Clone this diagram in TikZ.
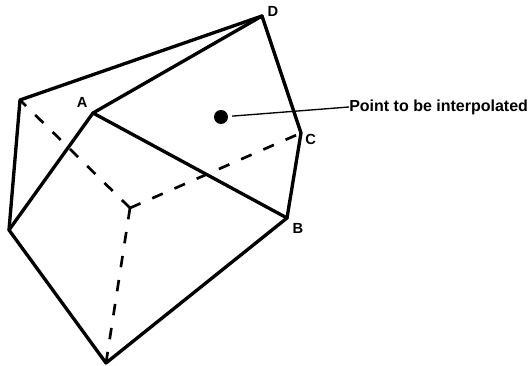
\documentclass[tikz,border=0pt]{standalone}
\usepackage{fontspec}
\setmainfont{Liberation Sans}
\usepackage{tikz}
\usetikzlibrary{positioning}

\begin{document}
\begin{tikzpicture}[
    x=0.75pt, y=-0.75pt,
    node distance = 1pt and 1pt,
    edge/.style = {line width=2.5pt, line join=round, line cap=round},
    hidden/.style = {line width=2pt, dash pattern=on 8.6pt off 9.6pt},
    leader/.style = {line width=1pt, shorten <=3pt},
    vertex/.style = {font=\bfseries\fontsize{11}{11}\selectfont, inner sep=0pt},
    target/.style = {circle, fill=black, minimum size=10.5pt, inner sep=0pt},
    caption/.style = {font=\bfseries\fontsize{12}{12}\selectfont, inner sep=0pt, anchor=west},
  ]
    \useasboundingbox (0,0) rectangle (529,366);

    % Corners of the solid
    \coordinate (d) at (262,16);
    \coordinate (a) at (93,113);
    \coordinate (c) at (301,133);
    \coordinate (b) at (287,218);
    \coordinate (top) at (20,100);
    \coordinate (left) at (9,230);
    \coordinate (bottom) at (106,363);
    \coordinate (back) at (130,208);

    % Hidden edges
    \draw[hidden] (back) -- (top);
    \draw[hidden] (back) -- (c);
    \draw[hidden] (back) -- (bottom);

    % Visible edges
    \draw[edge] (top) -- (d) -- (c) -- (b) -- (bottom) -- (left) -- cycle;
    \draw[edge] (left) -- (a) -- (d);
    \draw[edge] (a) -- (b);

    % Point and its caption
    \node[target] (point) at (221,117) {};
    \node[caption] (cap) at (349,107) {Point to be interpolated};
    \draw[leader] (point) -- (cap.west);

    % Labels
    \node[vertex, above left=4pt and 4pt of a]  (la) {A};
    \node[vertex, below right=4pt and 4pt of b] (lb) {B};
    \node[vertex, right=3pt of c, yshift=-4.5pt] (lc) {C};
    \node[vertex, right=4pt of d, yshift=3.75pt] (ld) {D};
  \end{tikzpicture}
\end{document}
